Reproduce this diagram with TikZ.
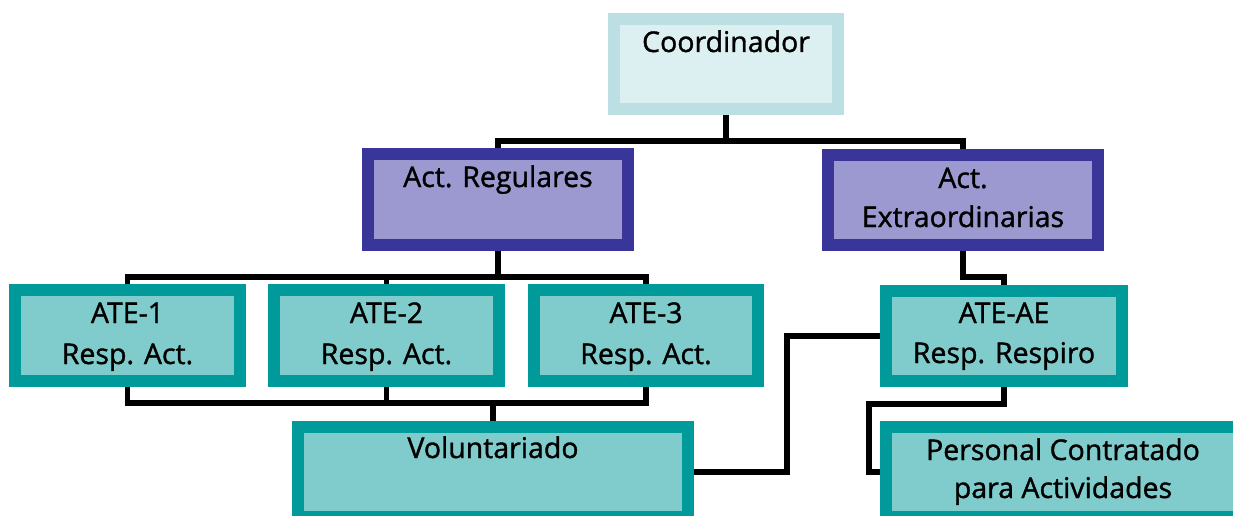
\documentclass[tikz,border=0pt]{standalone}
\usepackage{fontspec}
\setmainfont{Open Sans}
\newfontfamily\handfont[FakeBold=1.2]{Open Sans}
\usetikzlibrary{backgrounds}
\definecolor{lbout}{HTML}{BBDFE2}
\definecolor{lbin}{HTML}{DCEFF1}
\definecolor{blout}{HTML}{3A3699}
\definecolor{blin}{HTML}{9B99CF}
\definecolor{tlout}{HTML}{009A9A}
\definecolor{tlin}{HTML}{80CBCB}
\tikzset{
  box/.style={draw, line width=12pt, inner sep=0pt, outer sep=0pt, rectangle},
  lightbox/.style={box, draw=lbout, fill=lbin},
  bluebox/.style={box, draw=blout, fill=blin},
  tealbox/.style={box, draw=tlout, fill=tlin},
  txt/.style={anchor=base, inner sep=0pt, font=\handfont\fontsize{28.5}{34}\selectfont, text=black},
  conn/.style={draw=black, line width=5.5pt, line join=miter}
}
\begin{document}
\begin{tikzpicture}[x=1pt, y=-1pt]
\useasboundingbox (0,0) rectangle (1233,516);
\clip (0,0) rectangle (1233,516);
% boxes (sizes = outer size - border width)
\node[lightbox, minimum width=224pt, minimum height=90pt] (coord) at (726,64) {};
\node[bluebox, minimum width=260pt, minimum height=91pt] (actreg) at (498,199.5) {};
\node[bluebox, minimum width=270pt, minimum height=90pt] (actext) at (963,200) {};
\node[tealbox, minimum width=225pt, minimum height=91pt] (ate1) at (127.5,335.5) {};
\node[tealbox, minimum width=225pt, minimum height=91pt] (ate2) at (386.5,335.5) {};
\node[tealbox, minimum width=224pt, minimum height=91pt] (ate3) at (646,335.5) {};
\node[tealbox, minimum width=236pt, minimum height=90pt] (ateae) at (1004,336) {};
\node[tealbox, minimum width=390pt, minimum height=90pt] (volun) at (493,472) {};
\node[tealbox, minimum width=354pt, minimum height=90pt] (pers) at (1063,472) {};
% connector points
\coordinate (h1) at (726,141);
\coordinate (h2) at (498,277);
\coordinate (h3) at (493,403);
\coordinate (h4) at (963,277);
\coordinate (v1) at (787,472);
\coordinate (p1) at (869,404);
% connectors drawn behind boxes
\begin{scope}[on background layer]
\draw[conn] (coord.south) -- (h1);
\draw[conn] (actreg.north) |- (h1) -| (actext.north);
\draw[conn] (actreg.south) -- (h2);
\draw[conn] (ate1.north) |- (h2) -| (ate3.north);
\draw[conn] (ate2.north) -- (ate2.north |- h2);
\draw[conn] (ate1.south) |- (h3) -| (ate3.south);
\draw[conn] (ate2.south) -- (ate2.south |- h3);
\draw[conn] (h3) -- (volun.north);
\draw[conn] (actext.south) -- (h4) -| (ateae.north);
\draw[conn] (volun.east) -- (v1) |- (ateae.west);
\draw[conn] (ateae.south) |- (p1) |- (pers.west);
\end{scope}
% texts
\node[txt] (tcoord) at (726,52) {Coordinador};
\node[txt] (tactreg) at (498,187) {Act. Regulares};
\node[txt] (tactexta) at (963,188) {Act.};
\node[txt] (tactextb) at (963,227) {Extraordinarias};
\node[txt] (tate1a) at (127.5,323) {ATE-1};
\node[txt] (tate1b) at (127.5,364) {Resp. Act.};
\node[txt] (tate2a) at (386.5,323) {ATE-2};
\node[txt] (tate2b) at (386.5,364) {Resp. Act.};
\node[txt] (tate3a) at (646,323) {ATE-3};
\node[txt] (tate3b) at (646,364) {Resp. Act.};
\node[txt] (tateaea) at (1004,323) {ATE-AE};
\node[txt] (tateaeb) at (1004,363) {Resp. Respiro};
\node[txt] (tvolun) at (493,458) {Voluntariado};
\node[txt] (tpersa) at (1063,460) {Personal Contratado};
\node[txt] (tpersb) at (1063,498) {para Actividades};
\end{tikzpicture}
\end{document}
